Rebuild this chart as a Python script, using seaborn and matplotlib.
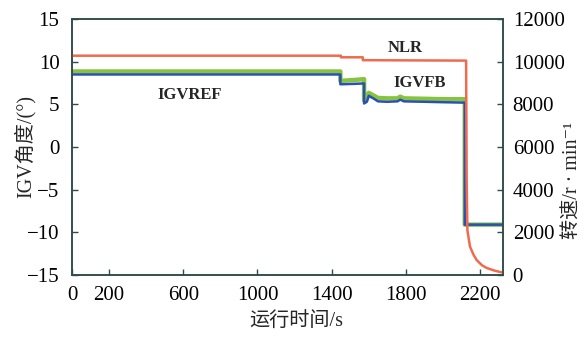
import matplotlib
matplotlib.use("Agg")
import matplotlib.pyplot as plt
import seaborn as sns
import pandas as pd

# IGVREF (blue), degrees
ref_t = [0, 1447, 1447, 1520, 1575, 1575, 1590, 1600, 1625, 1650, 1700, 1755, 1770, 1790, 1900, 2000, 2118, 2118, 2320]
ref_v = [8.5, 8.5, 7.35, 7.4, 7.45, 5.1, 5.3, 6.0, 5.7, 5.35, 5.3, 5.35, 5.55, 5.35, 5.3, 5.25, 5.2, -9.1, -9.1]

# IGVFB (green), degrees
fb_t = [0, 1447, 1447, 1520, 1575, 1575, 1590, 1600, 1625, 1650, 1700, 1755, 1770, 1790, 1900, 2000, 2118, 2118, 2320]
fb_v = [8.85, 8.85, 7.75, 7.85, 7.95, 5.45, 5.65, 6.35, 6.05, 5.75, 5.7, 5.7, 5.9, 5.7, 5.65, 5.6, 5.6, -9.1, -9.1]

# NLR (red), rpm
nlr_t = [0, 1450, 1450, 1568, 1568, 2125, 2128, 2132, 2146, 2165, 2182, 2210, 2236, 2280, 2324]
nlr_v = [10280, 10280, 10205, 10205, 10070, 10050, 4500, 2100, 1330, 950, 700, 460, 330, 200, 110]

x_ticks = [0, 200, 600, 1000, 1400, 1800, 2200]
y_ticks = [-15, -10, -5, 0, 5, 10, 15]
y2_ticks = [0, 2000, 4000, 6000, 8000, 10000, 12000]

sns.set_theme(style="ticks")
fam = ["Liberation Serif", "Noto Sans CJK SC", "DejaVu Sans"]
plt.rcParams["font.family"] = fam
plt.rcParams["axes.unicode_minus"] = True

red = "#f06a4e"
blue = "#2c4fb5"
green = "#86c440"
spine_c = "#2e4a4a"

fig = plt.figure(figsize=(5.84, 3.37), dpi=100)
ax = fig.add_axes([0.1233, 0.184, 0.738, 0.7596])
ax2 = ax.twinx()

df_fb = pd.DataFrame({"t": fb_t, "v": fb_v})
df_ref = pd.DataFrame({"t": ref_t, "v": ref_v})
df_nlr = pd.DataFrame({"t": nlr_t, "v": nlr_v})

sns.lineplot(data=df_fb, x="t", y="v", ax=ax, color=green, linewidth=3.2,
             estimator=None, sort=False)
sns.lineplot(data=df_ref, x="t", y="v", ax=ax, color=blue, linewidth=1.8,
             estimator=None, sort=False)
sns.lineplot(data=df_nlr, x="t", y="v", ax=ax2, color=red, linewidth=1.8,
             estimator=None, sort=False)

ax.set_xlim(0, 2324)
ax.set_ylim(-15, 15)
ax2.set_ylim(0, 12000)
ax.set_xticks(x_ticks)
ax.set_yticks(y_ticks)
ax2.set_yticks(y2_ticks)
ax.set_xticklabels([str(v) for v in x_ticks])
ax.set_yticklabels([str(v).replace("-", "\u2212") for v in y_ticks])
ax2.set_yticklabels([str(v) for v in y2_ticks])

for a in (ax, ax2):
    a.tick_params(direction="in", length=4, width=1, colors=spine_c,
                  labelcolor="black", labelsize=15)
    for s in a.spines.values():
        s.set_visible(True)
        s.set_color(spine_c)
        s.set_linewidth(1.1)
ax.tick_params(axis="x", pad=8)
ax.tick_params(axis="y", pad=9)
ax2.tick_params(axis="y", pad=7)

ax.set_xlabel("运行时间/s", fontsize=14.5, family=fam)
ax.set_ylabel("IGV角度/(°)", fontsize=14.5, family=fam)
ax2.set_ylabel("转速/r \u00b7 min\u207b\u00b9", fontsize=14.5, family=fam)
ax.xaxis.set_label_coords(0.52, -0.184)
ax.yaxis.set_label_coords(-0.109, 0.5)
ax2.yaxis.set_label_coords(1.163, 0.37)
ax.xaxis.label.set_va("center")
ax.yaxis.label.set_va("center")
ax2.yaxis.label.set_va("center")

ax.text(1795, 11.6, "NLR", fontsize=12, fontweight="bold", ha="center", va="center")
ax.text(1876, 7.5, "IGVFB", fontsize=12, fontweight="bold", ha="center", va="center")
ax.text(632, 6.1, "IGVREF", fontsize=12, fontweight="bold", ha="center", va="center")

fig.savefig("out.png", dpi=100)
